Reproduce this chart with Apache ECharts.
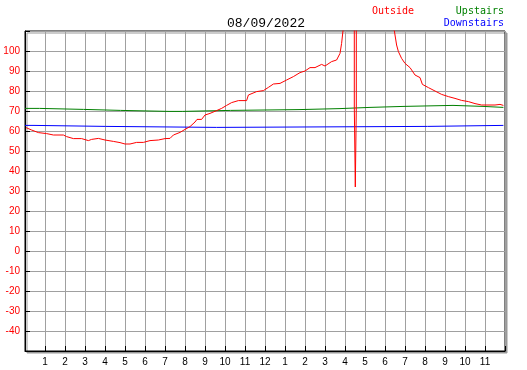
<!DOCTYPE html>
<html>
<head>
<meta charset="utf-8">
<title>08/09/2022</title>
<script src="https://cdn.jsdelivr.net/npm/echarts@6/dist/echarts.min.js"></script>
<style>
  html, body { margin: 0; padding: 0; background: #fff; }
  #chart { width: 527px; height: 370px; }
</style>
</head>
<body>
<div id="chart"></div>
<script>
// hours since midnight, temperature readings
const outsideHours = [0.05, 0.33, 0.67, 1.08, 1.42, 1.92, 2.08, 2.42, 2.83, 3.17, 3.33, 3.67, 4.0, 4.42, 4.75, 5.0, 5.25, 5.58, 5.92, 6.25, 6.67, 7.0, 7.25, 7.42, 7.75, 8.0, 8.25, 8.5, 8.6, 8.83, 9.0, 9.25, 9.58, 9.83, 10.08, 10.33, 10.67, 11.08, 11.17, 11.58, 11.92, 12.17, 12.42, 12.75, 13.08, 13.42, 13.75, 14.0, 14.25, 14.5, 14.83, 15.0, 15.33, 15.58, 15.75, 15.83, 15.92, 16.2, 16.465, 16.465, 16.515, 16.565, 16.565, 17.5, 18.47, 18.5, 18.58, 18.67, 18.83, 19.0, 19.25, 19.5, 19.75, 19.87, 20.17, 20.5, 20.83, 21.17, 21.5, 21.83, 22.17, 22.5, 22.83, 23.5, 23.75, 23.92];
const outsideTemps = [61.7, 60.5, 59.2, 58.7, 58, 58, 57.2, 56.2, 56.2, 55.2, 55.8, 56.3, 55.5, 54.8, 54.2, 53.5, 53.5, 54.3, 54.3, 55.2, 55.5, 56.2, 56.3, 58, 59.3, 60.8, 62.2, 64.5, 65.8, 65.8, 68, 68.8, 70.2, 71.3, 72.8, 74.2, 75.2, 75.2, 78, 79.7, 80.2, 81.8, 83.5, 83.8, 85.5, 87.2, 89.2, 90, 91.7, 91.7, 93.3, 92.5, 94.7, 95.5, 98.8, 103.8, 112, 130, 140, 72, 32, 72, 140, 130, 110, 108, 103, 99.7, 96.3, 93.8, 91.7, 88, 86.7, 83.3, 81.7, 80, 78.3, 77.2, 76.3, 75.3, 74.7, 73.7, 73, 73, 73.3, 72.8];

const upstairsHours = [0, 0.72, 0.72, 2.92, 2.92, 4.78, 4.78, 7.2, 7.25, 7.3, 7.87, 7.87, 10.28, 10.28, 13.7, 13.75, 13.8, 15.75, 15.75, 17.25, 17.25, 18.95, 18.95, 21.4, 21.4, 22.9, 22.9, 23.92];
const upstairsTemps = [71.3, 71.3, 70.8, 70.8, 70.3, 70.3, 69.8, 69.8, 69.4, 69.8, 69.8, 70.3, 70.3, 70.7, 70.7, 70.3, 71.2, 71.2, 71.8, 71.8, 72.3, 72.3, 72.8, 72.8, 72.3, 72.3, 71.8, 71.8];

const downstairsHours = [0, 0.3, 0.38, 0.45, 0.5, 0.5, 4.03, 4.03, 9.58, 9.58, 20.13, 20.13, 23.92];
const downstairsTemps = [62.8, 62.8, 62.2, 62.8, 62.8, 62.3, 62.3, 61.8, 61.8, 62.3, 62.3, 62.8, 62.8];

const zip = (xs, ys) => xs.map((x, i) => [x, ys[i]]);

const chart = echarts.init(document.getElementById('chart'));

const labelFont = { fontFamily: 'Liberation Sans', fontSize: 10 };

const option = {
  animation: false,
  backgroundColor: '#fff',
  title: [
    {
      text: '08/09/2022',
      left: 222,
      top: 12,
      textStyle: { fontFamily: 'Liberation Mono', fontSize: 13, fontWeight: 'normal', color: '#000' },
    },
  ],
  graphic: [
    { type: 'text', left: 372, top: 6, style: { text: 'Outside', fill: '#f00', font: '10px "DejaVu Sans Mono"' } },
    { type: 'text', right: 23, top: 6, style: { text: 'Upstairs', fill: '#008000', font: '10px "DejaVu Sans Mono"' } },
    { type: 'text', right: 23, top: 18, style: { text: 'Downstairs', fill: '#00f', font: '10px "DejaVu Sans Mono"' } },
  ],
  grid: {
    left: 25,
    top: 31,
    width: 480,
    height: 320,
    show: true,
    backgroundColor: '#fff',
    borderColor: '#000',
    borderWidth: 1,
    shadowColor: '#999',
    shadowBlur: 0,
    shadowOffsetX: 2,
    shadowOffsetY: 2,
  },
  xAxis: {
    type: 'value',
    min: 0,
    max: 24,
    interval: 1,
    axisLine: { show: true, onZero: false, lineStyle: { color: '#000', width: 1 } },
    axisTick: { show: true, inside: true, length: 5, lineStyle: { color: '#000' } },
    axisLabel: {
      ...labelFont,
      color: '#000',
      margin: 6,
      formatter: v => (v === 0 || v === 24 ? '' : String(v > 12 ? v - 12 : v)),
    },
    splitLine: { show: true, lineStyle: { color: '#a0a0a0', width: 1 } },
  },
  yAxis: {
    type: 'value',
    min: -50,
    max: 110,
    interval: 10,
    axisLine: { show: true, onZero: false, lineStyle: { color: '#000', width: 1 } },
    axisTick: { show: true, inside: true, length: 5, lineStyle: { color: '#000' } },
    axisLabel: {
      ...labelFont,
      color: '#f00',
      margin: 5,
      formatter: v => (v === -50 || v === 110 ? '' : String(v)),
    },
    splitLine: { show: true, lineStyle: { color: '#a0a0a0', width: 1 } },
  },
  series: [
    {
      name: 'Upstairs',
      type: 'line',
      data: zip(upstairsHours, upstairsTemps),
      showSymbol: false,
      lineStyle: { color: '#008000', width: 1 },
    },
    {
      name: 'Downstairs',
      type: 'line',
      data: zip(downstairsHours, downstairsTemps),
      showSymbol: false,
      lineStyle: { color: '#0000ff', width: 1 },
    },
    {
      name: 'Outside',
      type: 'line',
      data: zip(outsideHours, outsideTemps),
      showSymbol: false,
      clip: true,
      lineStyle: { color: '#ff0000', width: 1 },
    },
  ],
};

chart.setOption(option);
</script>
</body>
</html>
